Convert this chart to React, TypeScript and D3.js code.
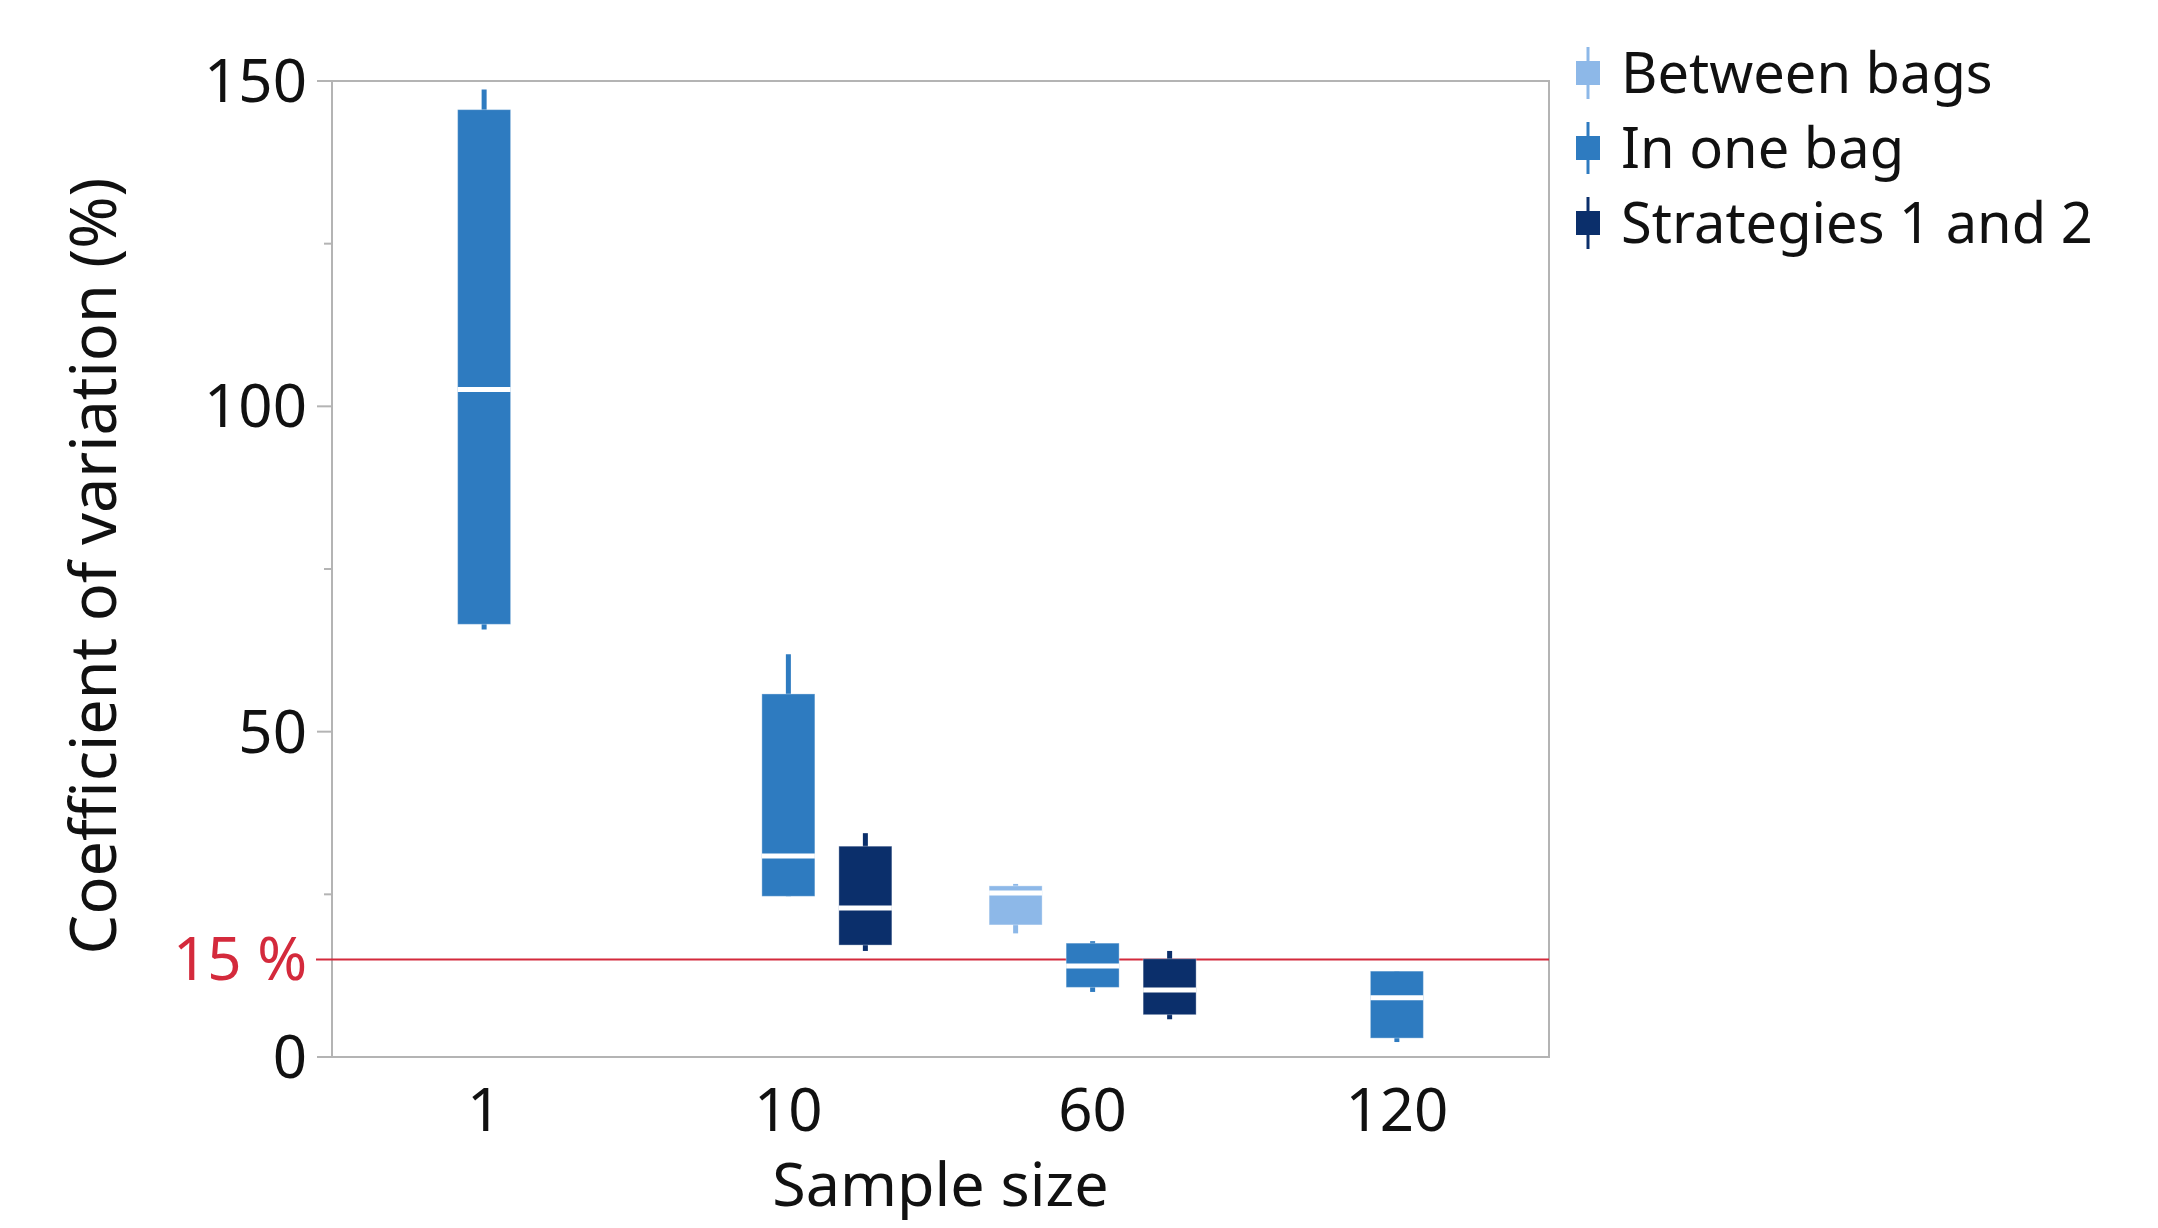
import React from 'react';
import * as d3 from 'd3';

// sample sizes on the x axis
const categories = ['1', '10', '60', '120'];
const seriesNames = ['Between bags', 'In one bag', 'Strategies 1 and 2'];
const seriesColors = ['#8db8e8', '#2e7bc0', '#0b2f6b'];

// [whisker low, q1, median, q3, whisker high] per sample size, null = no box
type Box = [number, number, number, number, number] | null;
const betweenBags: Box[] = [null, null, [19.0, 20.3, 25.2, 26.3, 26.6], null];
const inOneBag: Box[] = [
  [65.7, 66.5, 102.6, 145.6, 148.7],
  [24.7, 24.7, 30.9, 55.8, 61.9],
  [10.0, 10.7, 14.0, 17.5, 17.8],
  [2.3, 2.9, 9.1, 13.2, 13.2],
];
const strategies: Box[] = [null, [16.3, 17.2, 22.9, 32.4, 34.4], [5.8, 6.5, 10.3, 15.1, 16.3], null];
const seriesData = [betweenBags, inOneBag, strategies];

const yMajorTicks = [0, 50, 100, 150];
const yMinorTicks = [25, 75, 125];
const threshold = 15;

const FONT = '"Noto Sans", "Open Sans", sans-serif';

const App = () => {
  const W = 2158;
  const H = 1228;
  const plot = { left: 332, right: 1549, top: 81, bottom: 1057 };

  const x = d3.scaleBand().domain(categories).range([plot.left, plot.right]).padding(0);
  const offset = d3.scalePoint().domain(seriesNames).range([-77, 77]);
  const y = d3.scaleLinear().domain([0, 150]).range([plot.bottom, plot.top]);
  const boxW = 53;

  return (
    <svg width={W} height={H} style={{ position: 'absolute', left: 0, top: 0, background: '#fff' }}>
      {/* frame */}
      <rect x={plot.left} y={plot.top} width={plot.right - plot.left} height={plot.bottom - plot.top}
        fill="none" stroke="#b4b4b4" strokeWidth={2} />

      {/* y axis ticks */}
      {yMajorTicks.map(t => (
        <g key={'M' + t}>
          <line x1={plot.left - 15} x2={plot.left} y1={y(t)} y2={y(t)} stroke="#b4b4b4" strokeWidth={2} />
          <text x={plot.left - 25} y={y(t)} dy="0.35em" textAnchor="end" fontFamily={FONT} fontSize={60} fill="#111">{t}</text>
        </g>
      ))}
      {yMinorTicks.map(t => (
        <line key={'m' + t} x1={plot.left - 8} x2={plot.left} y1={y(t)} y2={y(t)} stroke="#b4b4b4" strokeWidth={2} />
      ))}

      {/* 15 % reference line */}
      <line x1={plot.left - 16} x2={plot.right} y1={y(threshold)} y2={y(threshold)} stroke="#d42a3c" strokeWidth={2} />
      <text x={plot.left - 25} y={y(threshold)} dy="0.35em" textAnchor="end" fontFamily={FONT} fontSize={60} fill="#d42a3c">15 %</text>

      {/* boxes */}
      {seriesData.map((data, si) =>
        data.map((b, ci) => {
          if (!b) return null;
          const cx = (x(categories[ci]) as number) + x.bandwidth() / 2 + (offset(seriesNames[si]) as number);
          const [lo, q1, med, q3, hi] = b;
          const color = seriesColors[si];
          return (
            <g key={si + '-' + ci}>
              <line x1={cx} x2={cx} y1={y(hi)} y2={y(lo)} stroke={color} strokeWidth={5} />
              <rect x={cx - boxW / 2} y={y(q3)} width={boxW} height={y(q1) - y(q3)} fill={color}
                stroke="#ffffff" strokeOpacity={0.35} strokeWidth={1} />
              <line x1={cx - boxW / 2} x2={cx + boxW / 2} y1={y(med)} y2={y(med)} stroke="#fff" strokeWidth={5} />
            </g>
          );
        })
      )}

      {/* x axis labels */}
      {categories.map(c => (
        <text key={c} x={(x(c) as number) + x.bandwidth() / 2} y={1131} textAnchor="middle" fontFamily={FONT} fontSize={60} fill="#111">{c}</text>
      ))}
      <text x={(plot.left + plot.right) / 2} y={1206} textAnchor="middle" fontFamily={FONT} fontSize={61} fill="#111">Sample size</text>
      <text transform="translate(94,566) rotate(-90)" dy="0.35em" textAnchor="middle"
        fontFamily={FONT} fontSize={63} fill="#111">Coefficient of variation (%)</text>

      {/* legend */}
      {seriesNames.map((s, i) => {
        const cy = 73 + i * 75;
        return (
          <g key={s}>
            <line x1={1588} x2={1588} y1={cy - 26} y2={cy + 26} stroke={seriesColors[i]} strokeWidth={3} />
            <rect x={1576} y={cy - 12} width={24} height={24} fill={seriesColors[i]} />
            <text x={1621} y={cy} dy="0.35em" fontFamily={FONT} fontSize={56} fill="#111">{s}</text>
          </g>
        );
      })}
    </svg>
  );
};

export default App;
